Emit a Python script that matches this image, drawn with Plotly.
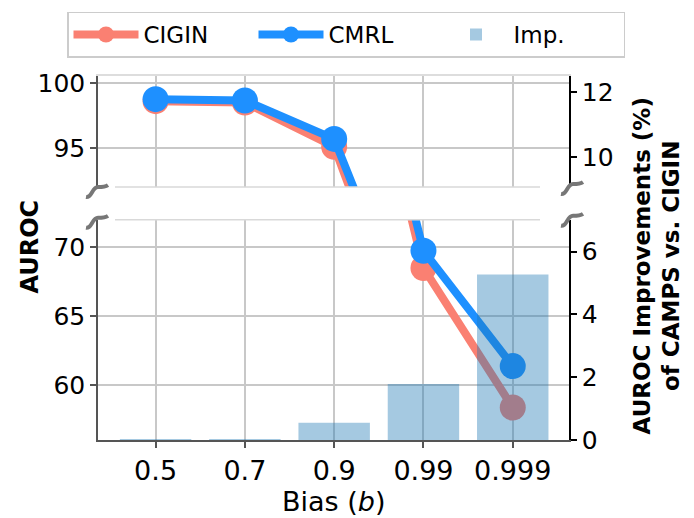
import plotly.graph_objects as go

# Bias levels and AUROC results
bias_labels = ["0.5", "0.7", "0.9", "0.99", "0.999"]
cigin_auroc = [98.6, 98.5, 95.1, 68.5, 58.4]
cmrl_auroc = [98.75, 98.65, 95.7, 69.75, 61.4]
improvement = [0.03, 0.03, 0.55, 1.78, 5.27]

# Figure geometry (pixels)
W, H = 694, 518
L, R, T, B = 98, 125, 73, 78
PW, PH = W - L - R, H - T - B
UPPER_BOTTOM_PX, LOWER_TOP_PX = 185, 218


def px_x(x):
    return (x - L) / PW


def px_y(y):
    return (H - B - y) / PH


CIGIN_C = "#fa8072"
CMRL_C = "#1e90ff"
BAR_C = "rgba(31,119,180,0.4)"
GRID_C = "#c8c8c8"
FONT = "DejaVu Sans"

fig = go.Figure()

# Upper panel lines
fig.add_trace(go.Scatter(x=bias_labels, y=cigin_auroc, name="CIGIN", mode="lines+markers",
                         line=dict(color=CIGIN_C, width=8), marker=dict(size=26, color=CIGIN_C),
                         xaxis="x2", yaxis="y", legendgroup="cigin"))
fig.add_trace(go.Scatter(x=bias_labels, y=cmrl_auroc, name="CMRL", mode="lines+markers",
                         line=dict(color=CMRL_C, width=8), marker=dict(size=26, color=CMRL_C),
                         xaxis="x2", yaxis="y", legendgroup="cmrl"))
# Improvement bars (lower panel, right axis)
fig.add_trace(go.Bar(x=bias_labels, y=improvement, name="Imp.", width=0.8,
                     marker=dict(color=BAR_C, line=dict(width=0)),
                     xaxis="x", yaxis="y4", legendgroup="imp"))
# Lower panel lines
fig.add_trace(go.Scatter(x=bias_labels, y=cigin_auroc, name="CIGIN", mode="lines+markers",
                         line=dict(color=CIGIN_C, width=8), marker=dict(size=26, color=CIGIN_C),
                         xaxis="x", yaxis="y3", legendgroup="cigin", showlegend=False))
fig.add_trace(go.Scatter(x=bias_labels, y=cmrl_auroc, name="CMRL", mode="lines+markers",
                         line=dict(color=CMRL_C, width=8), marker=dict(size=26, color=CMRL_C),
                         xaxis="x", yaxis="y3", legendgroup="cmrl", showlegend=False))
# Bars on the upper right axis (all below its range) so the axis is drawn
fig.add_trace(go.Bar(x=bias_labels, y=improvement, name="Imp.", width=0.8,
                     marker=dict(color=BAR_C, line=dict(width=0)),
                     xaxis="x2", yaxis="y2", legendgroup="imp", showlegend=False))

upper_dom = [px_y(UPPER_BOTTOM_PX), 1]
lower_dom = [0, px_y(LOWER_TOP_PX)]
x_range = [-0.645, 4.63]

common_y = dict(showline=True, linewidth=1.5, ticks="outside", ticklen=6, tickwidth=1.5,
                tickfont=dict(size=25, color="black", family=FONT), zeroline=False)

fig.update_layout(
    width=W, height=H,
    margin=dict(l=L, r=R, t=T, b=B),
    plot_bgcolor="white", paper_bgcolor="white",
    font=dict(family=FONT, color="black"),
    bargap=0.2,
    xaxis=dict(domain=[0, 1], anchor="y3", type="category", range=x_range,
               showline=True, linecolor="#555555", linewidth=1.5,
               ticks="outside", ticklen=6, tickwidth=1.5, tickcolor="#555555",
               tickfont=dict(size=27, color="black", family=FONT),
               showgrid=True, gridcolor=GRID_C, gridwidth=1.5, zeroline=False),
    xaxis2=dict(domain=[0, 1], anchor="y", matches="x", type="category", range=x_range,
                side="top", showticklabels=False, ticks="",
                showline=True, linecolor="#dddddd", linewidth=1.5,
                showgrid=True, gridcolor=GRID_C, gridwidth=1.5, zeroline=False),
    yaxis=dict(domain=upper_dom, anchor="x2", range=[92.0, 100.53], tickvals=[95, 100],
               linecolor="#555555", tickcolor="#555555",
               showgrid=True, gridcolor=GRID_C, gridwidth=1.5, **common_y),
    yaxis2=dict(domain=upper_dom, anchor="x2", overlaying="y", side="right",
                range=[9.09, 12.5], tickvals=[10, 12], linecolor="black", tickcolor="black",
                showgrid=False, **common_y),
    yaxis3=dict(domain=lower_dom, anchor="x", range=[56.05, 71.99], tickvals=[60, 65, 70],
                linecolor="#555555", tickcolor="#555555",
                showgrid=True, gridcolor=GRID_C, gridwidth=1.5, **common_y),
    yaxis4=dict(domain=lower_dom, anchor="x", overlaying="y3", side="right",
                range=[0, 7.01], tickvals=[0, 2, 4, 6], linecolor="black", tickcolor="black",
                showgrid=False, **common_y),
    legend=dict(orientation="h", x=px_x(67), xanchor="left", y=px_y(8), yanchor="top",
                bordercolor="#cccccc", borderwidth=1.5, bgcolor="white",
                font=dict(size=23, family=FONT, color="black"),
                entrywidth=105, itemwidth=65, traceorder="normal"),
)

# Edges of the break gap
for ypx in (UPPER_BOTTOM_PX, LOWER_TOP_PX):
    fig.add_shape(type="line", xref="paper", yref="paper",
                  x0=px_x(115), x1=px_x(540), y0=px_y(ypx), y1=px_y(ypx),
                  line=dict(color="#d9d9d9", width=1.5))

# Break marks on both spines
squiggle = "M -11 -5 C -5 -6, -5 5, 1 5 C 5 5, 8 5, 11 7"
for xpx, ypx in ((97, 190), (97, 221), (572, 187), (572, 219)):
    fig.add_shape(type="path", xref="paper", yref="paper",
                  xsizemode="pixel", ysizemode="pixel",
                  xanchor=px_x(xpx), yanchor=px_y(ypx), path=squiggle,
                  line=dict(color="#777777", width=4))

# Axis titles
fig.add_annotation(text="<b>AUROC</b>", xref="paper", yref="paper",
                   x=px_x(30), y=px_y(245), xanchor="center", yanchor="middle",
                   textangle=-90, showarrow=False,
                   font=dict(size=24, family=FONT, color="black"))
fig.add_annotation(text="<b>AUROC Improvements (%)<br>of CAMPS vs. CIGIN</b>",
                   xref="paper", yref="paper", x=px_x(657), y=px_y(265),
                   xanchor="center", yanchor="middle",
                   textangle=-90, showarrow=False,
                   font=dict(size=23, family=FONT, color="black"))
fig.add_annotation(text="Bias (<i>b</i>)", xref="paper", yref="paper",
                   x=px_x(333), y=px_y(502), xanchor="center", yanchor="middle",
                   showarrow=False,
                   font=dict(size=27, family=FONT, color="black"))

fig.write_html("out.html")
